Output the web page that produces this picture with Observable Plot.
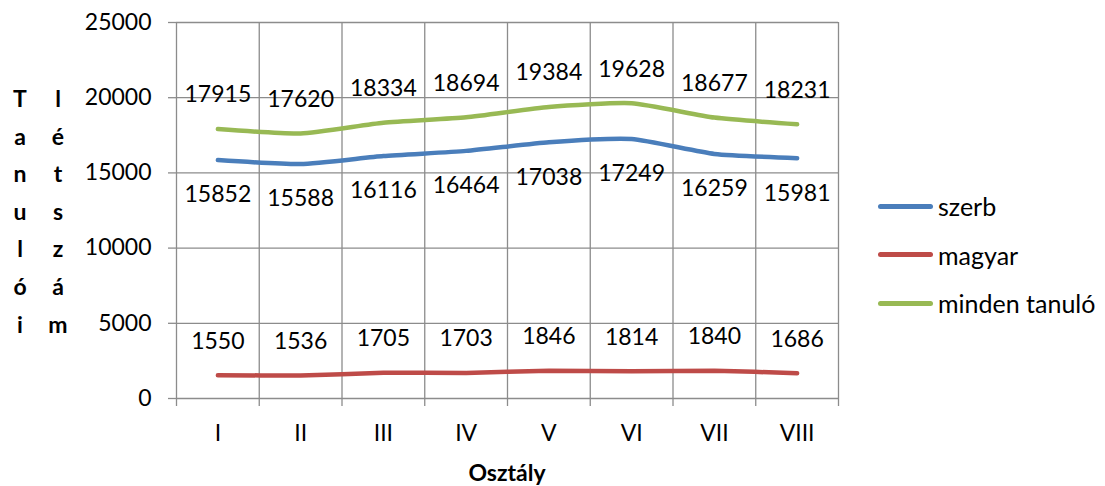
<!DOCTYPE html>
<html>
<head>
<meta charset="utf-8">
<script src="https://cdn.jsdelivr.net/npm/d3@7"></script>
<script src="https://cdn.jsdelivr.net/npm/@observablehq/plot@0.6"></script>
<style>
  html, body { margin: 0; padding: 0; background: #fff; }
  #wrap { position: relative; width: 1105px; height: 486px; font-family: Lato, sans-serif; color: #000; }
  .ycol { position: absolute; top: 80px; width: 30px; text-align: center; font-weight: bold; font-size: 23px; line-height: 37.6px; }
  #xtitle { position: absolute; left: 176px; width: 662px; top: 457px; text-align: center; font-weight: bold; font-size: 23px; line-height: 30px; }
  #legend { position: absolute; left: 878px; top: 182px; font-size: 25px; }
  .li { display: flex; align-items: center; height: 48.5px; }
  .sw { width: 55px; height: 5px; border-radius: 3px; margin-right: 5px; }
</style>
</head>
<body>
<div id="wrap">
  <div class="ycol" style="left:5px">T<br>a<br>n<br>u<br>l<br>ó<br>i</div>
  <div class="ycol" style="left:43px">l<br>é<br>t<br>s<br>z<br>á<br>m</div>
  <div id="chart"></div>
  <div id="xtitle">Osztály</div>
  <div id="legend"></div>
</div>
<script>
const grades = ["I", "II", "III", "IV", "V", "VI", "VII", "VIII"];
const seriesNames = ["szerb", "magyar", "minden tanuló"];
const seriesColors = ["#4A7EBB", "#BE4B48", "#98B954"];
const szerb = [15852, 15588, 16116, 16464, 17038, 17249, 16259, 15981];
const magyar = [1550, 1536, 1705, 1703, 1846, 1814, 1840, 1686];
const minden = [17915, 17620, 18334, 18694, 19384, 19628, 18677, 18231];
const yTicks = [0, 5000, 10000, 15000, 20000, 25000];
const labelSide = [1, -1, -1]; // below for szerb, above for others

const valuesBySeries = [szerb, magyar, minden];
const data = [];
valuesBySeries.forEach((vals, s) => {
  vals.forEach((v, i) => data.push({series: seriesNames[s], pos: i + 1, grade: grades[i], value: v, side: labelSide[s]}));
});
const positions = grades.map((g, i) => i + 1);
const edges = [0.5, ...positions.map(p => p + 0.5)];
const gridColor = "#8C8C8C";

const chart = Plot.plot({
  width: 1105,
  height: 486,
  marginLeft: 176,
  marginRight: 267,
  marginTop: 22,
  marginBottom: 88,
  style: {fontFamily: "Lato, sans-serif", fontSize: "23px", color: "#000", background: "transparent"},
  x: {domain: [0.5, grades.length + 0.5]},
  y: {domain: [0, 25000]},
  color: {domain: seriesNames, range: seriesColors},
  marks: [
    Plot.ruleY(yTicks, {stroke: gridColor, strokeWidth: 1.3}),
    Plot.ruleX(edges, {stroke: gridColor, strokeWidth: 1.3}),
    Plot.axisY({ticks: yTicks, tickSize: 8, tickPadding: 17, stroke: gridColor, strokeWidth: 1.3, fill: "#000", fontSize: 23, label: null, tickFormat: d => String(d)}),
    Plot.axisX({ticks: edges, tickSize: 8, stroke: gridColor, strokeWidth: 1.3, tickFormat: () => "", label: null}),
    Plot.axisX({ticks: positions, tickSize: 0, tickPadding: 26, fill: "#000", fontSize: 23, tickFormat: d => grades[d - 1], label: null}),
    Plot.line(data, {x: "pos", y: "value", z: "series", stroke: "series", strokeWidth: 4.5, curve: "cardinal", tension: 0.45}),
    Plot.text(data.filter(d => d.side > 0), {x: "pos", y: "value", text: d => String(d.value), dy: 35, fontSize: 23, fill: "#000"}),
    Plot.text(data.filter(d => d.side < 0), {x: "pos", y: "value", text: d => String(d.value), dy: -34, fontSize: 23, fill: "#000"})
  ]
});
document.getElementById("chart").appendChild(chart);

const legend = document.getElementById("legend");
seriesNames.forEach((n, i) => {
  const row = document.createElement("div");
  row.className = "li";
  const sw = document.createElement("span");
  sw.className = "sw";
  sw.style.background = seriesColors[i];
  const t = document.createElement("span");
  t.textContent = n;
  row.appendChild(sw);
  row.appendChild(t);
  legend.appendChild(row);
});
</script>
</body>
</html>
